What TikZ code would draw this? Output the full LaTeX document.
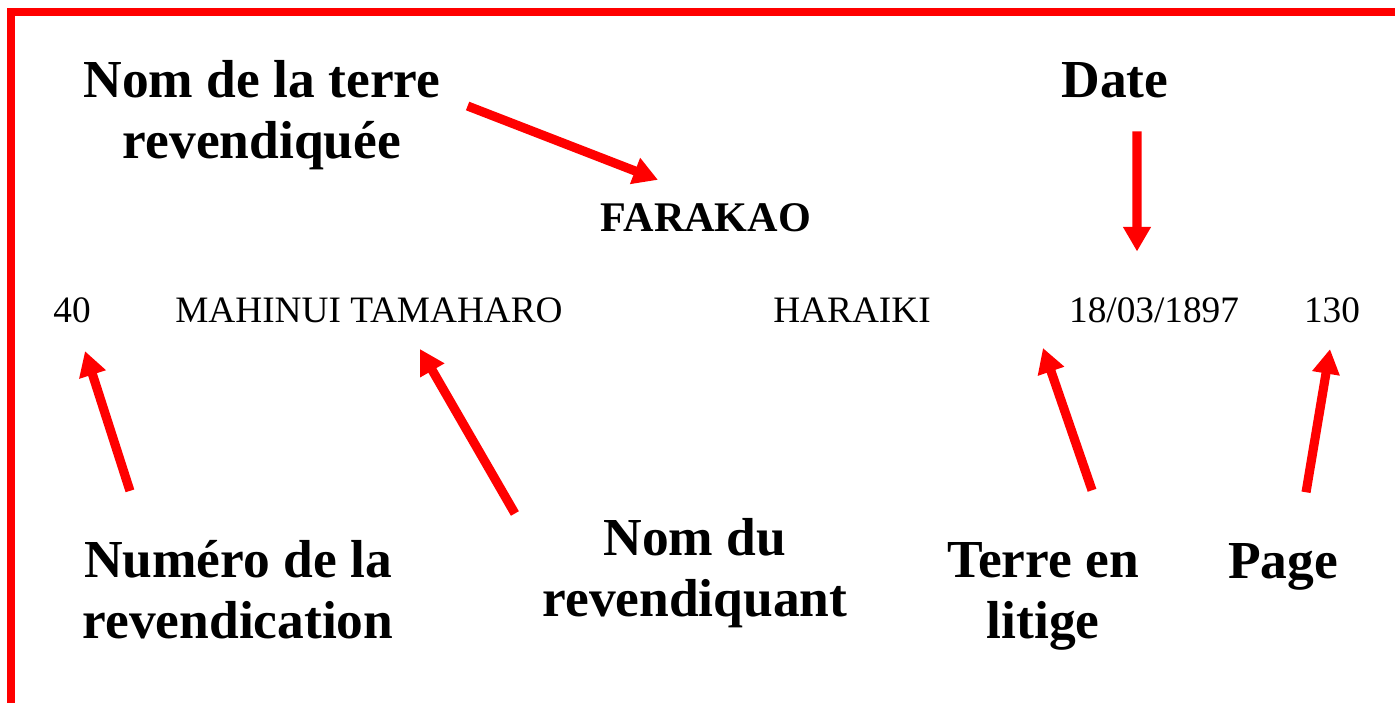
\documentclass[tikz,border=0pt]{standalone}
\usepackage{fontspec}
\setmainfont{Liberation Serif}
\usepackage{tikz}
\usetikzlibrary{positioning,arrows.meta}
\tikzstyle{heading} = [font=\fontsize{15.2}{17.4}\selectfont\bfseries, align=center, inner sep=0pt]
\tikzstyle{field} = [font=\fontsize{10.6}{12}\selectfont, inner sep=0pt, anchor=base]
\tikzstyle{pointer} = [draw=red, line width=2.6pt, -{Triangle[length=7pt,width=7.5pt]}]
\tikzstyle{border} = [draw=red, line width=2.4pt]

\begin{document}
\begin{tikzpicture}[x=0.01cm, y=-0.01cm]
			\useasboundingbox (0,0) rectangle (1395,702);
			% Frame
			\path [border] (1400,12) -- (11,12) -- (11,710);
			% Place nodes
			\node [heading] (landlbl) at (262,115.5) {Nom de la terre\\revendiquée};
			\node [heading, anchor=base] (datelbl) at (1115,97) {Date};
			\node [field, font=\fontsize{12}{14}\selectfont\bfseries] (land) at (706,231) {FARAKAO};
			\node [field] (num) at (72,322) {40};
			\node [field] (claimant) at (369,322) {MAHINUI TAMAHARO};
			\node [field] (place) at (852,322) {HARAIKI};
			\node [field] (date) at (1154,322) {18/03/1897};
			\node [field] (page) at (1332,322) {130};
			\coordinate (dispute) at (1043,348);
			\node [heading] (numlbl) at (238,590) {Numéro de la\\revendication};
			\node [heading] (claimlbl) at (695,573) {Nom du\\revendiquant};
			\node [heading] (disputelbl) at (1043,596) {Terre en\\litige};
			\node [heading, anchor=base] (pagelbl) at (1283,578) {Page};
			% Draw edges
			\path [pointer] ([xshift=0.265cm,yshift=0.095cm]landlbl.east) -- ([xshift=-0.48cm,yshift=0.225cm]land.north);
			\path [pointer] ([xshift=0.22cm,yshift=-0.33cm]datelbl.south) -- ([xshift=-0.17cm,yshift=0.45cm]date.north);
			\path [pointer] ([xshift=-1.08cm,yshift=0.49cm]numlbl.north) -- ([xshift=0.13cm,yshift=-0.28cm]num.south);
			\path [pointer] ([xshift=-1.80cm,yshift=0.04cm]claimlbl.north) -- ([xshift=0.51cm,yshift=-0.26cm]claimant.south);
			\path [pointer] ([xshift=0.49cm,yshift=0.51cm]disputelbl.north) -- (dispute);
			\path [pointer] ([xshift=0.23cm,yshift=0.50cm]pagelbl.north) -- ([xshift=-0.02cm,yshift=-0.26cm]page.south);
\end{tikzpicture}
\end{document}
